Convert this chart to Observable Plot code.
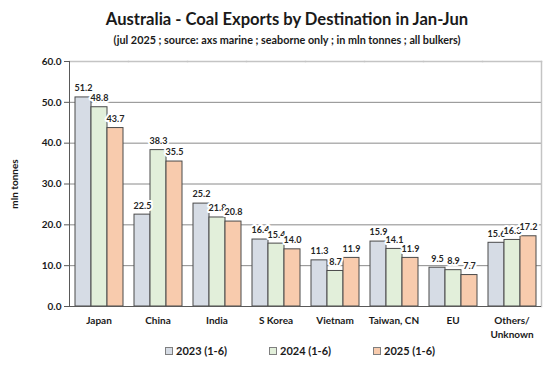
<!DOCTYPE html>
<html>
<head>
<meta charset="utf-8">
<script src="https://cdn.jsdelivr.net/npm/d3@7"></script>
<script src="https://cdn.jsdelivr.net/npm/@observablehq/plot@0.6"></script>
<style>
  html, body { margin: 0; padding: 0; background: #fff; }
  body { width: 554px; height: 365px; overflow: hidden; font-family: Lato, "Open Sans", sans-serif; color: #1a1a1a; }
  #title { position: absolute; top: 8px; left: 20px; width: 534px; text-align: center; font-weight: bold; font-size: 16.6px; line-height: 22px; }
  #subtitle { position: absolute; top: 33px; left: 20px; width: 534px; text-align: center; font-weight: bold; font-size: 10.8px; line-height: 14px; }
  #chart { position: absolute; top: 50px; left: 0; }
  #legend { position: absolute; top: 343px; left: 165px; display: flex; font-weight: bold; font-size: 11px; line-height: 16px; }
  .item { display: flex; align-items: center; width: 104px; }
  .sw { width: 8px; height: 8px; border: 1px solid #7f7f7f; margin-right: 3px; box-sizing: border-box; }
</style>
</head>
<body>
<div id="title">Australia - Coal Exports by Destination in Jan-Jun</div>
<div id="subtitle">(jul 2025 ; source: axs marine ; seaborne only ; in mln tonnes ; all bulkers)</div>
<div id="chart"></div>
<div id="legend"></div>
<script>
const countries = ["Japan", "China", "India", "S Korea", "Vietnam", "Taiwan, CN", "EU", "Others/\nUnknown"];
const series = ["2023 (1-6)", "2024 (1-6)", "2025 (1-6)"];
const v2023 = [51.2, 22.5, 25.2, 16.4, 11.3, 15.9, 9.5, 15.6];
const v2024 = [48.8, 38.3, 21.8, 15.4, 8.7, 14.1, 8.9, 16.3];
const v2025 = [43.7, 35.5, 20.8, 14.0, 11.9, 11.9, 7.7, 17.2];
const colors = ["#d6dce5", "#e2efda", "#f8cbad"];
const yTicks = [0, 10, 20, 30, 40, 50, 60];
const gridTicks = [10, 20, 30, 40, 50];

const valuesBySeries = [v2023, v2024, v2025];
const data = countries.flatMap((c, i) => series.map((s, j) => ({country: c, series: s, value: valuesBySeries[j][i]})));

const chart = Plot.plot({
  width: 554,
  height: 290,
  marginTop: 11,
  marginBottom: 34,
  marginLeft: 68,
  marginRight: 13,
  style: {fontFamily: "Lato, 'Open Sans', sans-serif", fontSize: "10px", fontWeight: "bold", color: "#1a1a1a", background: "transparent"},
  fx: {domain: countries, padding: 0, label: null},
  x: {domain: series, paddingInner: 0, paddingOuter: 0.31, axis: null},
  y: {domain: [0, 60]},
  color: {domain: series, range: colors},
  marks: [
    Plot.ruleY(gridTicks, {stroke: "#8a8a8a", strokeWidth: 1}),
    Plot.frame({anchor: "top", stroke: "#c4c4c4", strokeWidth: 1.5}),
    Plot.frame({anchor: "right", stroke: "#c4c4c4", strokeWidth: 1.5, facetAnchor: "right"}),
    Plot.barY(data, {fx: "country", x: "series", y: "value", fill: "series", stroke: "#4a4a4a", strokeWidth: 1}),
    Plot.text(data, {fx: "country", x: "series", y: "value", text: d => d.value.toFixed(1), dy: -9, fontSize: 9, fontWeight: "bold", fill: "#262626", stroke: "white", strokeWidth: 4}),
    Plot.ruleY([0], {stroke: "#595959", strokeWidth: 1}),
    Plot.frame({anchor: "left", stroke: "#595959", strokeWidth: 1, facetAnchor: "left"}),
    Plot.axisY({ticks: yTicks, tickFormat: d => d.toFixed(1), tickSize: 5, tickPadding: 3, stroke: "#595959", label: "mln tonnes", labelAnchor: "center", labelArrow: "none", labelOffset: 59}),
    Plot.axisFx({anchor: "bottom", tickSize: 0, tickPadding: 8, lineHeight: 1.4, label: null})
  ]
});
document.getElementById("chart").appendChild(chart);

const legend = document.getElementById("legend");
series.forEach((s, i) => {
  const item = document.createElement("div");
  item.className = "item";
  const sw = document.createElement("div");
  sw.className = "sw";
  sw.style.background = colors[i];
  const label = document.createElement("span");
  label.textContent = s;
  item.appendChild(sw);
  item.appendChild(label);
  legend.appendChild(item);
});
</script>
</body>
</html>
